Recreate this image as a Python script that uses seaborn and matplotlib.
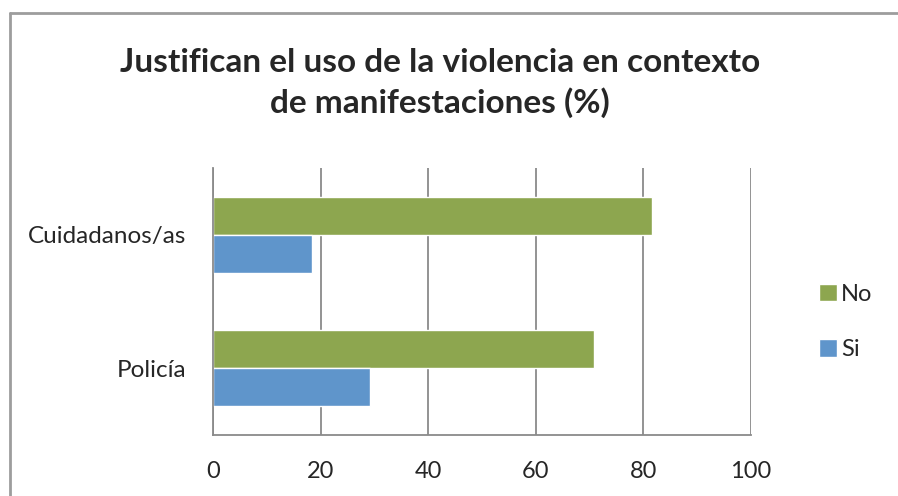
import matplotlib
matplotlib.use("Agg")
import matplotlib.pyplot as plt
import seaborn as sns
import pandas as pd
from matplotlib.lines import Line2D

# data
grupos = ["Cuidadanos/as", "Policía"]
respuestas = ["No", "Si"]
valores_no = [81.6, 70.8]
valores_si = [18.4, 29.2]
x_ticks = [0, 20, 40, 60, 80, 100]

df = pd.DataFrame({
    "grupo": grupos * 2,
    "respuesta": ["No"] * len(grupos) + ["Si"] * len(grupos),
    "valor": valores_no + valores_si,
})

sns.set_style("white")
plt.rcParams["font.family"] = ["Lato", "DejaVu Sans"]

gris = "#8a8a8a"
colores = {"No": "#8da64f", "Si": "#5f95cb"}

fig = plt.figure(figsize=(8.98, 4.96), dpi=100)
ax = fig.add_axes([213 / 898, 1 - 435 / 496, (751 - 213) / 898, (435 - 168) / 496])

sns.barplot(data=df, x="valor", y="grupo", hue="respuesta", order=grupos,
            hue_order=respuestas, palette=colores, width=0.57, orient="h",
            saturation=1, ax=ax, legend=True)

ax.set_xlim(0, 100)
ax.set_ylim(1.5, -0.5)
ax.set_xticks(x_ticks)
ax.set_xticklabels([str(t) for t in x_ticks], fontsize=17)
ax.set_yticks([-0.5, 0.5, 1.5])
ax.set_yticklabels([])
ax.set_yticks([0, 1], minor=True)
ax.set_yticklabels(grupos, minor=True, fontsize=17.5)
ax.tick_params(axis="y", which="major", length=5, width=1.3, color=gris, direction="out")
ax.tick_params(axis="y", which="minor", length=0, pad=19)
ax.tick_params(axis="x", length=5, width=1.3, color=gris, direction="out", pad=14)
ax.set_xlabel("")
ax.set_ylabel("")

ax.grid(axis="x", color=gris, linewidth=1.3)
ax.set_axisbelow(True)
for lado in ["top", "right"]:
    ax.spines[lado].set_visible(False)
for lado in ["left", "bottom"]:
    ax.spines[lado].set_color(gris)
    ax.spines[lado].set_linewidth(1.3)

ax.legend(loc="center left", bbox_to_anchor=(807 / 898, 1 - 322 / 496),
          bbox_transform=fig.transFigure, frameon=False, fontsize=17,
          handlelength=0.75, handleheight=0.75, handletextpad=0.2,
          labelspacing=1.45, borderpad=0)

fig.text(440 / 898, 1 - 83 / 496,
         "Justifican el uso de la violencia en contexto\nde manifestaciones (%)",
         ha="center", va="center", fontsize=24, fontweight="bold",
         linespacing=1.4)

# borde del area del grafico
fig.add_artist(Line2D([10 / 898, 10 / 898], [0, 1 - 13 / 496],
                      transform=fig.transFigure, color="#9d9d9d", linewidth=2))
fig.add_artist(Line2D([10 / 898, 1], [1 - 13 / 496, 1 - 13 / 496],
                      transform=fig.transFigure, color="#9d9d9d", linewidth=2))

fig.savefig("out.png", dpi=100, facecolor="white")
